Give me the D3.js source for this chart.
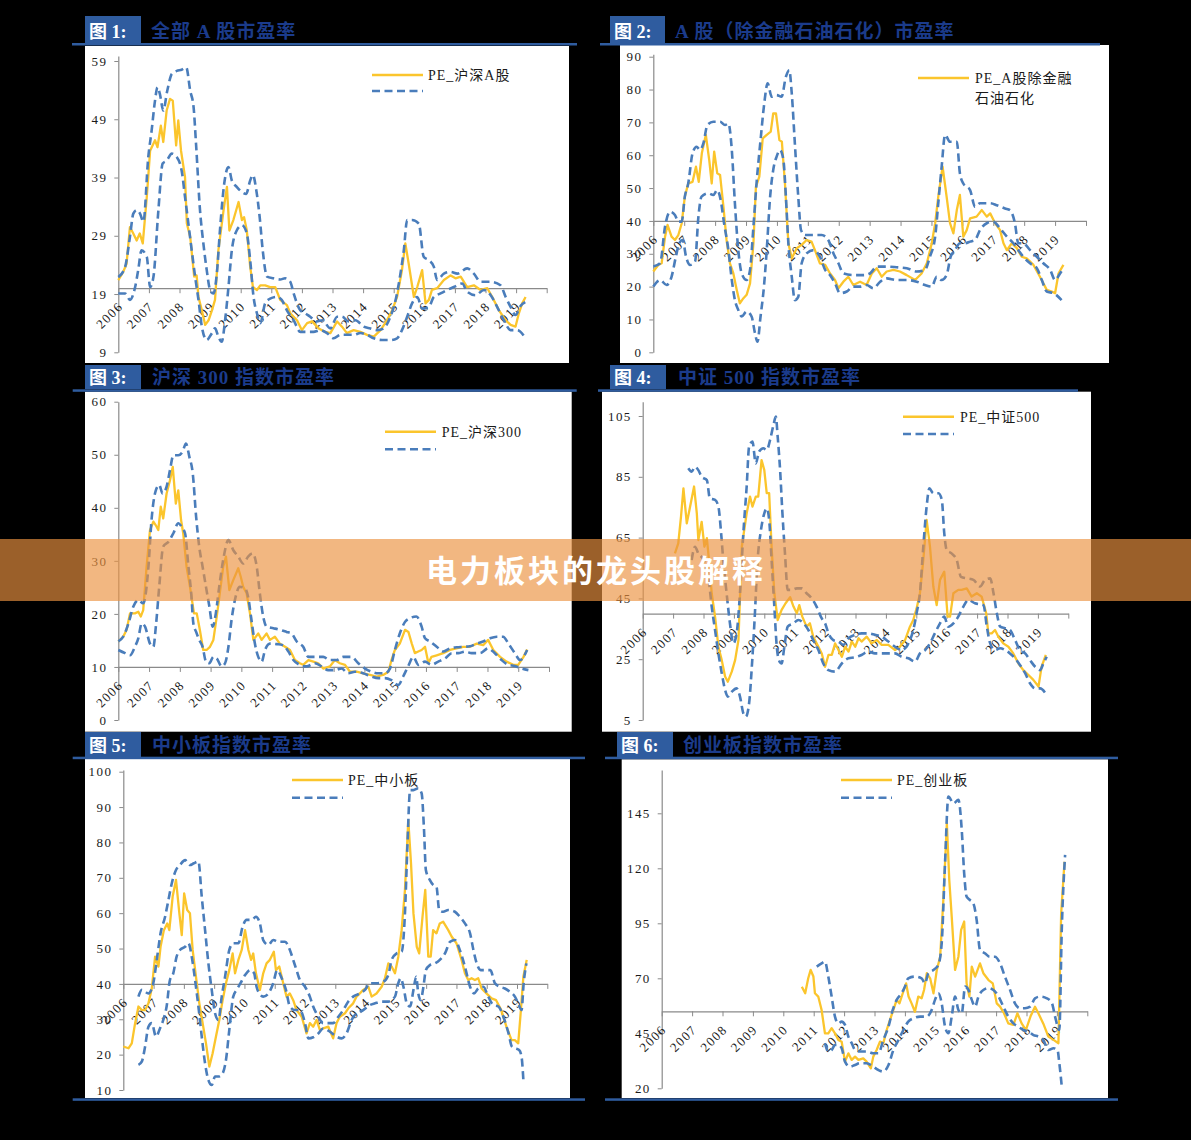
<!DOCTYPE html>
<html>
<head>
  <meta charset="UTF-8">
  <style>
    body { margin: 0; background: #000; }
    svg { display: block; }
    .axis text { font-family: "Liberation Serif", "Noto Sans CJK SC", serif; font-size: 13px; letter-spacing: 1.4px; fill: #1a1a1a; }
    .axis path, .axis line { stroke: #8a8a8a; }
  </style>
</head>
<body>
<svg width="1191" height="1140"></svg>
<script src="https://d3js.org/d3.v7.min.js"></script>
<script>
// ---- data (fractional year, PE) ----
const yearLabels = ["2006","2007","2008","2009","2010","2011","2012","2013","2014","2015","2016","2017","2018","2019"];
const figLabels = ["图 1:", "图 2:", "图 3:", "图 4:", "图 5:", "图 6:"];
const titles = ["全部 A 股市盈率", "A 股（除金融石油石化）市盈率", "沪深 300 指数市盈率", "中证 500 指数市盈率", "中小板指数市盈率", "创业板指数市盈率"];
const legendLabels = [["PE_沪深A股"], ["PE_A股除金融", "石油石化"], ["PE_沪深300"], ["PE_中证500"], ["PE_中小板"], ["PE_创业板"]];
const yTicks1 = [9, 19, 29, 39, 49, 59];
const yTicks2 = [0, 10, 20, 30, 40, 50, 60, 70, 80, 90];
const yTicks3 = [0, 10, 20, 30, 40, 50, 60];
const yTicks4 = [5, 25, 45, 65, 85, 105];
const yTicks5 = [10, 20, 30, 40, 50, 60, 70, 80, 90, 100];
const yTicks6 = [20, 45, 70, 95, 120, 145];
const means = [20, 40, 10, 40, 40, 55];

const pe1 = [[2006.0,21.4],[2006.16,22.8],[2006.27,24.2],[2006.38,30.5],[2006.49,29.4],[2006.6,28.2],[2006.7,29.4],[2006.8,27.7],[2006.93,35.6],[2007.04,43.6],[2007.2,45.4],[2007.28,44.2],[2007.39,47.9],[2007.47,45.1],[2007.58,50.5],[2007.69,52.5],[2007.78,52.2],[2007.89,44.5],[2007.96,48.8],[2008.05,43.6],[2008.18,39.1],[2008.24,31.1],[2008.35,28.8],[2008.48,22.0],[2008.56,22.2],[2008.62,18.5],[2008.73,16.2],[2008.84,13.7],[2008.95,14.5],[2009.06,16.2],[2009.16,18.0],[2009.27,26.5],[2009.44,33.4],[2009.55,37.4],[2009.63,29.9],[2009.76,31.7],[2009.93,34.8],[2010.04,31.7],[2010.11,32.2],[2010.2,29.9],[2010.31,23.7],[2010.4,20.2],[2010.53,19.7],[2010.64,20.5],[2010.8,20.5],[2010.96,20.2],[2011.13,20.2],[2011.29,18.0],[2011.51,17.1],[2011.62,15.7],[2011.84,14.5],[2012.0,12.8],[2012.17,14.0],[2012.33,14.3],[2012.55,13.1],[2012.76,12.5],[2012.93,12.3],[2013.15,14.3],[2013.31,13.4],[2013.47,12.3],[2013.69,12.8],[2013.91,12.5],[2014.13,12.0],[2014.35,11.7],[2014.57,12.8],[2014.78,14.5],[2014.95,16.2],[2015.11,18.5],[2015.27,23.1],[2015.38,27.7],[2015.49,24.2],[2015.66,18.5],[2015.77,20.2],[2015.93,23.1],[2016.04,17.4],[2016.15,18.0],[2016.25,19.7],[2016.42,20.0],[2016.64,21.4],[2016.86,22.2],[2017.02,21.7],[2017.19,22.0],[2017.4,20.2],[2017.62,20.5],[2017.84,19.7],[2018.06,20.0],[2018.22,18.5],[2018.44,16.2],[2018.66,14.5],[2018.82,13.7],[2018.98,13.4],[2019.09,15.7],[2019.2,17.4],[2019.31,18.5]];
const up1 = [[2006.0,21.9],[2006.22,23.6],[2006.38,28.8],[2006.49,32.8],[2006.6,33.4],[2006.71,32.8],[2006.82,31.4],[2006.98,42.5],[2007.09,47.1],[2007.2,52.2],[2007.28,54.5],[2007.36,53.3],[2007.47,50.5],[2007.6,53.9],[2007.75,56.8],[2007.91,57.3],[2008.07,57.5],[2008.22,57.9],[2008.35,53.9],[2008.46,51.1],[2008.54,44.8],[2008.67,33.4],[2008.78,27.7],[2008.89,23.1],[2009.0,19.7],[2009.11,19.1],[2009.22,22.5],[2009.33,30.5],[2009.46,37.9],[2009.6,40.8],[2009.71,38.5],[2009.87,37.4],[2010.04,36.5],[2010.18,36.2],[2010.31,38.5],[2010.4,39.4],[2010.51,36.8],[2010.62,32.2],[2010.72,26.5],[2010.86,22.0],[2011.07,21.7],[2011.29,21.5],[2011.45,21.7],[2011.62,21.1],[2011.73,19.1],[2011.95,16.2],[2012.11,15.7],[2012.27,15.1],[2012.49,14.3],[2012.67,14.5],[2012.93,13.1],[2013.15,15.1],[2013.31,15.1],[2013.53,14.3],[2013.75,14.5],[2014.02,13.4],[2014.24,13.1],[2014.46,12.8],[2014.67,13.1],[2014.89,15.1],[2015.05,17.7],[2015.22,22.5],[2015.33,26.5],[2015.44,31.7],[2015.6,31.7],[2015.82,31.1],[2015.98,25.4],[2016.15,24.8],[2016.31,23.7],[2016.42,21.4],[2016.64,22.5],[2016.86,22.8],[2017.08,22.5],[2017.4,23.4],[2017.62,22.5],[2017.84,21.1],[2018.17,21.1],[2018.49,20.5],[2018.66,18.5],[2018.82,16.8],[2018.98,15.4],[2019.15,17.0],[2019.3,17.6]];
const lo1 = [[2006.0,19.1],[2006.22,19.1],[2006.38,18.0],[2006.55,20.2],[2006.65,23.1],[2006.76,26.5],[2006.93,25.4],[2007.04,20.2],[2007.15,22.0],[2007.31,33.4],[2007.45,41.4],[2007.58,41.9],[2007.75,43.1],[2007.91,42.5],[2008.07,40.2],[2008.18,35.7],[2008.29,31.1],[2008.4,26.5],[2008.51,22.0],[2008.62,18.0],[2008.73,13.4],[2008.89,11.1],[2009.06,12.3],[2009.16,13.1],[2009.27,11.7],[2009.38,10.8],[2009.49,14.5],[2009.6,20.2],[2009.71,26.5],[2009.87,29.9],[2010.04,30.8],[2010.2,29.4],[2010.31,24.8],[2010.42,18.5],[2010.53,15.7],[2010.64,14.0],[2010.8,17.4],[2010.96,18.2],[2011.18,18.5],[2011.34,18.0],[2011.51,16.2],[2011.73,14.5],[2011.95,12.5],[2012.17,12.5],[2012.38,12.5],[2012.6,12.8],[2012.82,12.3],[2013.04,11.4],[2013.26,12.0],[2013.47,12.0],[2013.69,12.0],[2013.91,12.3],[2014.13,12.0],[2014.35,11.4],[2014.62,11.1],[2014.89,11.1],[2015.11,11.4],[2015.27,12.8],[2015.44,15.1],[2015.6,17.4],[2015.77,18.5],[2015.93,16.5],[2016.15,16.8],[2016.31,18.5],[2016.53,19.1],[2016.75,19.7],[2016.96,20.2],[2017.24,20.8],[2017.4,19.4],[2017.67,18.8],[2017.95,19.7],[2018.17,18.8],[2018.38,16.8],[2018.6,14.5],[2018.82,12.8],[2019.04,12.8],[2019.31,11.4]];

const pe2 = [[2006.0,24.6],[2006.16,26.6],[2006.27,27.1],[2006.38,35.2],[2006.46,38.8],[2006.59,35.2],[2006.7,34.2],[2006.81,35.7],[2006.92,39.3],[2007.02,47.4],[2007.13,51.4],[2007.27,51.9],[2007.38,56.5],[2007.47,51.9],[2007.57,60.6],[2007.7,66.2],[2007.81,58.5],[2007.89,51.4],[2007.97,61.1],[2008.07,54.5],[2008.16,54.0],[2008.27,44.3],[2008.37,34.2],[2008.48,27.1],[2008.59,24.0],[2008.7,19.0],[2008.8,14.9],[2008.91,16.4],[2009.02,17.5],[2009.13,21.0],[2009.24,33.2],[2009.32,50.4],[2009.43,53.5],[2009.54,65.1],[2009.67,66.2],[2009.8,67.2],[2009.88,72.7],[2009.97,72.7],[2010.08,64.6],[2010.16,64.1],[2010.26,51.4],[2010.37,33.2],[2010.48,28.6],[2010.64,31.7],[2010.8,32.7],[2010.96,34.2],[2011.12,33.7],[2011.23,31.1],[2011.39,27.1],[2011.56,26.6],[2011.72,24.0],[2011.88,22.0],[2011.99,19.5],[2012.15,21.5],[2012.31,23.0],[2012.47,20.5],[2012.69,21.5],[2012.9,20.5],[2013.07,24.0],[2013.23,25.6],[2013.39,23.0],[2013.55,24.6],[2013.77,25.1],[2013.98,24.6],[2014.2,23.5],[2014.47,22.0],[2014.68,24.0],[2014.85,27.1],[2015.01,33.2],[2015.12,39.3],[2015.22,47.4],[2015.36,56.5],[2015.49,47.4],[2015.6,39.3],[2015.71,36.2],[2015.82,43.3],[2015.92,47.9],[2016.03,35.2],[2016.14,37.2],[2016.25,40.8],[2016.46,41.3],[2016.63,43.3],[2016.79,41.3],[2016.9,42.3],[2017.06,39.3],[2017.22,37.2],[2017.33,33.2],[2017.44,31.1],[2017.6,33.2],[2017.76,31.7],[2017.92,29.1],[2018.08,28.6],[2018.3,26.6],[2018.51,23.0],[2018.73,19.0],[2018.89,18.5],[2019.0,18.0],[2019.11,24.0],[2019.27,26.6]];
const up2 = [[2006.0,26.1],[2006.22,27.1],[2006.38,38.3],[2006.54,42.8],[2006.7,41.8],[2006.81,39.8],[2006.92,39.8],[2007.02,47.4],[2007.13,51.4],[2007.27,60.6],[2007.4,62.6],[2007.51,61.6],[2007.62,63.6],[2007.75,69.2],[2007.94,70.2],[2008.16,70.2],[2008.32,69.2],[2008.43,69.7],[2008.54,61.6],[2008.64,45.4],[2008.75,31.1],[2008.86,24.0],[2009.02,22.0],[2009.13,25.1],[2009.24,38.3],[2009.34,51.4],[2009.47,64.6],[2009.59,75.8],[2009.7,81.9],[2009.83,77.8],[2009.99,78.3],[2010.15,77.8],[2010.29,83.9],[2010.4,85.9],[2010.48,78.8],[2010.58,63.6],[2010.69,47.4],[2010.78,37.2],[2010.91,35.7],[2011.18,35.7],[2011.45,35.7],[2011.66,34.2],[2011.83,30.1],[2011.99,27.1],[2012.15,24.0],[2012.47,23.5],[2012.8,23.5],[2013.01,24.0],[2013.23,26.1],[2013.55,26.1],[2013.87,25.9],[2014.2,25.6],[2014.52,24.6],[2014.79,25.1],[2014.95,29.1],[2015.12,35.2],[2015.22,45.4],[2015.33,56.5],[2015.44,66.2],[2015.6,64.1],[2015.82,64.1],[2015.92,54.5],[2016.03,51.4],[2016.25,49.4],[2016.41,44.3],[2016.57,45.4],[2016.9,45.4],[2017.11,44.8],[2017.38,43.8],[2017.54,43.3],[2017.7,39.3],[2017.81,33.2],[2017.97,33.2],[2018.19,31.1],[2018.41,29.1],[2018.62,27.1],[2018.84,25.1],[2019.0,22.0],[2019.16,24.0],[2019.27,25.6]];
const lo2 = [[2006.0,20.0],[2006.22,22.0],[2006.43,20.5],[2006.59,23.0],[2006.73,29.1],[2006.84,33.2],[2006.95,34.2],[2007.06,29.1],[2007.19,26.6],[2007.35,27.6],[2007.46,41.3],[2007.56,47.4],[2007.78,48.4],[2007.94,47.9],[2008.07,49.4],[2008.18,46.4],[2008.29,39.3],[2008.43,31.1],[2008.54,22.0],[2008.64,15.9],[2008.75,12.9],[2008.86,10.9],[2009.02,12.4],[2009.18,10.9],[2009.29,5.8],[2009.37,3.2],[2009.47,10.9],[2009.58,20.0],[2009.67,31.1],[2009.78,47.4],[2009.88,55.5],[2009.99,59.6],[2010.1,61.6],[2010.21,58.5],[2010.29,47.4],[2010.37,33.2],[2010.48,23.0],[2010.58,15.9],[2010.69,16.9],[2010.8,27.1],[2010.96,30.1],[2011.18,31.1],[2011.39,29.1],[2011.56,25.1],[2011.72,23.5],[2011.88,21.0],[2012.04,18.0],[2012.26,18.5],[2012.47,20.0],[2012.69,20.0],[2012.9,20.5],[2013.12,19.5],[2013.34,21.5],[2013.55,22.5],[2013.87,22.0],[2014.2,22.0],[2014.52,21.5],[2014.79,20.5],[2015.01,20.0],[2015.17,23.0],[2015.33,22.0],[2015.49,23.5],[2015.62,29.1],[2015.76,31.1],[2015.92,33.2],[2016.09,33.2],[2016.25,33.7],[2016.41,34.2],[2016.57,37.2],[2016.79,39.3],[2017.0,39.8],[2017.22,37.7],[2017.44,35.2],[2017.65,33.2],[2017.81,31.1],[2017.97,29.1],[2018.19,27.1],[2018.41,25.6],[2018.57,22.0],[2018.73,18.5],[2018.95,18.0],[2019.21,15.9]];

const pe3 = [[2006.0,14.8],[2006.16,15.7],[2006.27,17.0],[2006.38,20.1],[2006.54,20.1],[2006.65,20.4],[2006.73,19.5],[2006.81,20.7],[2006.92,28.9],[2007.03,35.8],[2007.14,37.4],[2007.22,36.7],[2007.3,35.8],[2007.38,40.2],[2007.46,38.0],[2007.57,42.7],[2007.68,45.2],[2007.77,47.7],[2007.87,40.8],[2007.95,43.3],[2008.04,37.7],[2008.11,35.2],[2008.22,28.9],[2008.33,25.1],[2008.46,20.1],[2008.55,20.1],[2008.65,17.0],[2008.76,13.2],[2008.87,13.2],[2008.98,13.8],[2009.09,15.1],[2009.2,19.5],[2009.3,23.9],[2009.41,28.9],[2009.5,30.8],[2009.61,24.5],[2009.74,26.4],[2009.9,28.6],[2009.98,27.0],[2010.06,25.1],[2010.17,23.9],[2010.28,20.1],[2010.39,15.1],[2010.55,16.3],[2010.66,15.1],[2010.82,16.3],[2010.93,15.1],[2011.09,15.7],[2011.25,14.4],[2011.42,13.8],[2011.58,13.2],[2011.74,11.3],[2011.9,10.7],[2012.01,10.4],[2012.18,11.3],[2012.34,11.0],[2012.5,10.7],[2012.66,9.7],[2012.88,10.1],[2013.04,11.3],[2013.2,10.7],[2013.37,10.4],[2013.53,9.1],[2013.75,9.1],[2013.96,8.8],[2014.18,8.5],[2014.4,8.2],[2014.61,8.5],[2014.78,9.1],[2014.88,11.3],[2014.99,13.2],[2015.15,14.4],[2015.32,17.0],[2015.43,16.6],[2015.54,14.4],[2015.64,12.6],[2015.75,12.9],[2015.86,13.2],[2015.97,13.8],[2016.08,10.7],[2016.18,11.9],[2016.35,12.2],[2016.56,12.6],[2016.78,13.2],[2016.99,13.5],[2017.21,13.8],[2017.43,13.8],[2017.65,14.4],[2017.86,14.1],[2018.02,15.1],[2018.19,13.2],[2018.41,11.9],[2018.62,11.0],[2018.84,10.4],[2019.0,10.4],[2019.17,11.9],[2019.29,13.3]];
const up3 = [[2006.0,14.8],[2006.16,15.7],[2006.33,18.2],[2006.49,21.4],[2006.65,22.6],[2006.81,22.0],[2006.98,28.9],[2007.08,37.7],[2007.22,43.3],[2007.33,44.3],[2007.44,42.7],[2007.57,44.0],[2007.68,47.1],[2007.79,49.9],[2007.95,49.9],[2008.09,50.6],[2008.2,52.1],[2008.31,49.6],[2008.42,46.5],[2008.53,38.3],[2008.63,32.7],[2008.74,28.9],[2008.85,25.1],[2008.96,21.4],[2009.07,17.6],[2009.17,20.1],[2009.28,25.1],[2009.41,30.2],[2009.58,33.9],[2009.74,32.0],[2009.9,30.8],[2010.06,29.5],[2010.22,30.8],[2010.37,31.4],[2010.5,28.9],[2010.6,23.9],[2010.71,19.5],[2010.82,17.6],[2011.04,17.3],[2011.25,17.0],[2011.47,16.6],[2011.63,16.3],[2011.8,14.8],[2012.01,13.8],[2012.18,11.9],[2012.39,11.9],[2012.66,11.9],[2012.88,11.3],[2013.1,11.3],[2013.31,11.9],[2013.58,11.9],[2013.8,10.7],[2014.02,9.7],[2014.23,9.1],[2014.45,8.8],[2014.67,8.8],[2014.83,9.7],[2014.99,13.2],[2015.15,16.3],[2015.32,18.5],[2015.48,19.2],[2015.69,19.5],[2015.86,17.6],[2015.97,15.4],[2016.13,14.8],[2016.35,13.8],[2016.56,12.9],[2016.78,13.5],[2016.99,13.7],[2017.21,13.8],[2017.43,13.9],[2017.65,14.4],[2017.86,14.8],[2018.08,15.4],[2018.3,15.7],[2018.51,15.7],[2018.68,14.4],[2018.89,12.6],[2019.06,11.3],[2019.29,13.2]];
const lo3 = [[2006.0,13.2],[2006.22,12.6],[2006.38,12.2],[2006.54,13.8],[2006.65,15.4],[2006.76,18.2],[2006.87,17.6],[2007.03,14.4],[2007.14,13.8],[2007.22,17.6],[2007.33,25.1],[2007.46,32.7],[2007.63,33.6],[2007.79,35.2],[2007.95,37.1],[2008.06,36.4],[2008.17,35.2],[2008.28,28.9],[2008.37,23.9],[2008.44,18.2],[2008.53,16.6],[2008.63,15.1],[2008.74,13.8],[2008.85,11.0],[2008.96,10.7],[2009.09,11.9],[2009.2,11.6],[2009.36,10.1],[2009.47,10.7],[2009.58,13.8],[2009.68,18.8],[2009.79,22.6],[2009.95,25.1],[2010.12,24.8],[2010.22,23.2],[2010.33,18.8],[2010.44,14.4],[2010.55,11.9],[2010.66,11.0],[2010.77,13.2],[2010.93,14.4],[2011.15,14.3],[2011.36,14.1],[2011.53,12.9],[2011.69,11.3],[2011.9,10.4],[2012.12,10.1],[2012.39,10.7],[2012.61,10.1],[2012.82,9.4],[2013.04,9.4],[2013.26,9.7],[2013.47,8.8],[2013.69,9.1],[2013.96,8.8],[2014.23,8.2],[2014.45,7.9],[2014.67,7.9],[2014.88,7.5],[2015.1,6.6],[2015.26,8.2],[2015.42,10.1],[2015.59,11.9],[2015.75,10.4],[2015.97,11.0],[2016.18,10.4],[2016.4,11.0],[2016.62,11.6],[2016.84,12.6],[2017.05,12.6],[2017.27,12.9],[2017.49,12.6],[2017.76,12.6],[2018.02,13.5],[2018.24,12.6],[2018.46,11.3],[2018.68,10.4],[2018.89,10.2],[2019.11,9.7],[2019.33,9.4]];

const pe4 = [[2007.06,59.8],[2007.17,63.1],[2007.26,71.9],[2007.34,81.2],[2007.45,69.7],[2007.56,75.2],[2007.69,81.8],[2007.78,73.0],[2007.83,64.2],[2007.94,70.2],[2008.03,62.0],[2008.11,64.8],[2008.18,57.6],[2008.27,46.7],[2008.38,39.0],[2008.49,29.1],[2008.6,24.7],[2008.71,19.3],[2008.8,17.6],[2008.93,20.9],[2009.04,24.7],[2009.15,31.3],[2009.26,62.0],[2009.42,73.0],[2009.53,78.5],[2009.61,75.2],[2009.72,78.5],[2009.8,78.5],[2009.91,90.5],[2010.0,87.2],[2010.08,79.6],[2010.16,79.6],[2010.24,62.0],[2010.33,46.7],[2010.44,37.9],[2010.57,41.2],[2010.7,43.4],[2010.85,45.4],[2010.96,42.3],[2011.07,40.1],[2011.15,42.8],[2011.25,39.0],[2011.39,35.7],[2011.5,36.8],[2011.61,32.4],[2011.78,29.1],[2011.89,26.9],[2012.0,22.5],[2012.11,26.4],[2012.22,26.4],[2012.33,30.2],[2012.44,28.0],[2012.55,25.8],[2012.66,29.1],[2012.77,27.5],[2012.88,30.8],[2012.99,29.1],[2013.1,31.9],[2013.2,30.8],[2013.37,32.4],[2013.53,30.2],[2013.7,31.3],[2013.86,29.7],[2014.08,29.7],[2014.3,28.0],[2014.46,29.1],[2014.63,31.3],[2014.79,35.7],[2014.9,37.9],[2015.01,41.7],[2015.12,46.7],[2015.23,57.6],[2015.34,70.8],[2015.45,62.0],[2015.56,48.9],[2015.67,42.8],[2015.78,51.1],[2015.92,53.8],[2016.03,39.0],[2016.11,39.0],[2016.22,46.7],[2016.38,47.8],[2016.49,47.8],[2016.66,48.3],[2016.82,45.6],[2016.99,46.7],[2017.15,45.6],[2017.3,40.1],[2017.37,33.5],[2017.48,33.5],[2017.59,34.6],[2017.7,32.4],[2017.86,30.2],[2018.03,29.1],[2018.19,26.9],[2018.36,23.6],[2018.52,21.4],[2018.69,19.8],[2018.85,18.2],[2019.02,16.0],[2019.12,22.5],[2019.26,26.4]];
const up4 = [[2007.5,87.8],[2007.61,86.7],[2007.72,88.3],[2007.83,87.2],[2007.94,85.0],[2008.11,83.9],[2008.21,77.9],[2008.38,77.4],[2008.49,75.2],[2008.58,66.4],[2008.65,57.6],[2008.76,46.7],[2008.87,36.8],[2008.98,30.2],[2009.09,33.5],[2009.2,46.7],[2009.31,66.4],[2009.42,81.8],[2009.5,94.9],[2009.61,96.6],[2009.72,89.4],[2009.83,93.3],[2009.97,94.4],[2010.08,93.8],[2010.19,97.1],[2010.3,102.0],[2010.38,104.8],[2010.44,98.2],[2010.52,87.2],[2010.59,74.1],[2010.68,59.8],[2010.77,47.8],[2010.9,47.8],[2011.07,48.3],[2011.23,48.3],[2011.39,46.7],[2011.56,45.0],[2011.72,42.3],[2011.89,38.4],[2012.0,36.8],[2012.11,33.5],[2012.27,31.3],[2012.44,30.8],[2012.6,29.7],[2012.77,31.9],[2012.98,33.0],[2013.2,33.5],[2013.42,33.5],[2013.64,33.0],[2013.86,32.4],[2014.08,30.8],[2014.3,29.1],[2014.52,28.0],[2014.74,30.2],[2014.9,34.6],[2015.01,40.1],[2015.12,46.7],[2015.23,62.0],[2015.34,75.2],[2015.43,81.2],[2015.56,79.6],[2015.73,79.6],[2015.84,77.4],[2015.92,66.4],[2016.0,60.9],[2016.16,59.8],[2016.33,57.6],[2016.47,52.1],[2016.66,51.6],[2016.88,51.1],[2017.1,48.9],[2017.26,51.1],[2017.43,51.6],[2017.54,46.7],[2017.65,40.1],[2017.76,35.7],[2017.92,35.2],[2018.08,34.6],[2018.25,31.3],[2018.41,28.0],[2018.58,26.9],[2018.74,24.7],[2018.91,22.5],[2019.07,21.4],[2019.18,23.6],[2019.29,25.8]];
const lo4 = [[2007.61,57.6],[2007.72,62.0],[2007.83,59.8],[2008.0,57.6],[2008.16,52.1],[2008.27,42.3],[2008.38,34.6],[2008.49,26.9],[2008.6,20.4],[2008.71,14.9],[2008.8,12.7],[2008.93,14.3],[2009.09,15.4],[2009.2,12.7],[2009.31,7.2],[2009.39,6.1],[2009.5,10.5],[2009.59,22.5],[2009.68,37.9],[2009.78,57.6],[2009.89,67.5],[2010.0,73.0],[2010.08,74.6],[2010.16,70.8],[2010.24,57.6],[2010.33,42.3],[2010.41,29.1],[2010.48,24.7],[2010.57,23.6],[2010.66,29.1],[2010.77,35.7],[2010.96,36.8],[2011.12,37.9],[2011.29,36.8],[2011.45,34.6],[2011.61,31.3],[2011.78,28.0],[2011.94,23.6],[2012.11,21.4],[2012.33,20.9],[2012.55,23.6],[2012.77,25.3],[2012.98,25.6],[2013.2,26.4],[2013.42,27.5],[2013.64,26.9],[2013.86,26.9],[2014.08,26.9],[2014.3,26.9],[2014.52,25.8],[2014.74,25.3],[2014.96,24.2],[2015.12,26.9],[2015.29,28.0],[2015.45,30.2],[2015.61,33.5],[2015.78,36.8],[2015.92,39.0],[2016.05,35.7],[2016.22,36.8],[2016.38,39.0],[2016.55,42.3],[2016.71,44.5],[2016.93,43.4],[2017.21,42.8],[2017.32,35.7],[2017.43,30.2],[2017.59,28.0],[2017.76,28.6],[2017.92,28.0],[2018.08,26.9],[2018.25,25.3],[2018.41,23.1],[2018.58,20.4],[2018.74,17.1],[2018.91,15.4],[2019.07,15.4],[2019.29,13.2]];

const pe5 = [[2006.0,22.3],[2006.17,21.8],[2006.28,23.2],[2006.39,28.9],[2006.5,33.6],[2006.61,32.6],[2006.72,32.6],[2006.83,34.5],[2006.94,38.7],[2007.05,47.7],[2007.16,44.9],[2007.23,50.5],[2007.34,55.2],[2007.45,57.1],[2007.52,55.2],[2007.63,64.7],[2007.74,69.4],[2007.85,60.0],[2007.93,53.8],[2008.01,65.6],[2008.11,60.9],[2008.2,60.0],[2008.29,49.6],[2008.4,42.0],[2008.51,34.5],[2008.62,28.9],[2008.73,23.2],[2008.84,16.6],[2008.95,20.4],[2009.06,25.1],[2009.17,29.8],[2009.28,35.4],[2009.39,40.2],[2009.5,43.9],[2009.61,48.6],[2009.69,43.0],[2009.8,46.8],[2009.91,49.6],[2010.02,55.2],[2010.13,49.6],[2010.22,46.8],[2010.29,48.6],[2010.38,43.0],[2010.51,38.3],[2010.62,43.0],[2010.73,45.8],[2010.84,46.8],[2010.97,49.1],[2011.04,43.9],[2011.15,44.9],[2011.28,40.2],[2011.39,36.4],[2011.5,37.3],[2011.61,35.4],[2011.72,32.6],[2011.89,30.7],[2012.05,26.0],[2012.16,28.9],[2012.27,27.9],[2012.38,29.8],[2012.49,27.0],[2012.6,27.4],[2012.77,27.9],[2012.93,24.6],[2013.04,28.9],[2013.15,30.7],[2013.32,31.7],[2013.43,33.1],[2013.59,34.5],[2013.7,36.4],[2013.81,37.3],[2013.92,38.3],[2014.09,39.2],[2014.2,36.4],[2014.36,37.3],[2014.53,39.2],[2014.64,41.6],[2014.75,45.8],[2014.86,44.9],[2014.97,43.0],[2015.08,47.7],[2015.19,55.2],[2015.3,66.6],[2015.41,86.3],[2015.5,74.1],[2015.58,60.0],[2015.69,50.5],[2015.77,48.6],[2015.88,59.0],[2015.97,66.6],[2016.07,47.7],[2016.15,47.7],[2016.23,55.2],[2016.34,54.3],[2016.45,57.1],[2016.56,57.6],[2016.73,55.2],[2016.84,53.4],[2017.0,51.5],[2017.17,46.8],[2017.28,43.0],[2017.39,41.1],[2017.5,41.6],[2017.61,41.1],[2017.72,41.6],[2017.83,38.7],[2017.99,37.3],[2018.16,35.9],[2018.31,35.4],[2018.48,32.6],[2018.65,27.9],[2018.82,24.1],[2018.93,24.1],[2019.04,23.2],[2019.12,31.7],[2019.21,42.0],[2019.32,46.8]];
const up5 = [[2006.5,36.4],[2006.61,38.3],[2006.83,37.3],[2006.99,40.2],[2007.12,47.7],[2007.23,54.3],[2007.38,59.0],[2007.49,63.7],[2007.6,68.4],[2007.74,72.2],[2007.87,73.6],[2008.04,75.0],[2008.2,73.6],[2008.33,74.1],[2008.48,74.6],[2008.59,64.7],[2008.7,55.2],[2008.81,45.8],[2008.92,38.3],[2009.03,31.7],[2009.14,29.8],[2009.25,36.4],[2009.36,42.0],[2009.5,49.6],[2009.63,51.5],[2009.8,51.5],[2009.94,56.2],[2010.07,58.1],[2010.24,58.1],[2010.38,59.0],[2010.51,57.1],[2010.62,52.4],[2010.79,51.0],[2010.95,52.4],[2011.12,51.9],[2011.34,51.9],[2011.5,49.6],[2011.61,46.8],[2011.72,43.9],[2011.83,41.1],[2012.0,39.2],[2012.16,36.4],[2012.27,33.6],[2012.44,30.7],[2012.6,28.9],[2012.77,28.9],[2012.93,28.9],[2013.1,30.7],[2013.26,32.6],[2013.43,35.0],[2013.59,36.4],[2013.81,37.3],[2013.98,38.3],[2014.14,40.2],[2014.36,40.2],[2014.58,40.6],[2014.75,42.5],[2014.86,46.8],[2015.02,48.6],[2015.19,49.1],[2015.3,60.0],[2015.38,78.8],[2015.47,94.8],[2015.58,94.8],[2015.74,95.3],[2015.85,93.9],[2015.93,83.5],[2015.99,72.2],[2016.12,69.4],[2016.23,68.0],[2016.34,67.5],[2016.43,60.9],[2016.56,60.4],[2016.73,60.9],[2016.95,60.4],[2017.11,59.0],[2017.28,57.1],[2017.45,54.3],[2017.56,49.6],[2017.67,45.8],[2017.8,43.9],[2017.94,43.9],[2018.12,43.9],[2018.27,40.2],[2018.43,39.2],[2018.6,38.7],[2018.76,37.8],[2018.93,36.4],[2019.04,34.5],[2019.15,32.6],[2019.22,40.2],[2019.31,45.8]];
const lo5 = [[2006.5,17.1],[2006.61,18.0],[2006.72,22.3],[2006.83,27.9],[2006.94,28.9],[2007.08,25.1],[2007.21,27.4],[2007.32,29.8],[2007.43,33.6],[2007.54,41.1],[2007.65,43.0],[2007.76,47.7],[2007.87,49.6],[2008.04,50.5],[2008.15,51.5],[2008.26,47.7],[2008.37,41.1],[2008.48,33.6],[2008.59,25.1],[2008.7,17.5],[2008.81,12.8],[2008.92,11.4],[2009.03,13.8],[2009.14,13.8],[2009.28,14.7],[2009.39,18.5],[2009.5,27.0],[2009.63,36.4],[2009.74,38.3],[2009.87,40.2],[2010.02,42.5],[2010.19,43.9],[2010.32,43.0],[2010.4,39.2],[2010.49,37.3],[2010.62,36.4],[2010.79,37.3],[2010.95,40.2],[2011.08,43.9],[2011.23,41.6],[2011.37,38.3],[2011.5,33.6],[2011.67,32.6],[2011.83,32.6],[2012.0,28.9],[2012.11,24.6],[2012.27,24.9],[2012.44,26.0],[2012.6,27.4],[2012.82,26.5],[2013.04,25.1],[2013.21,24.6],[2013.37,26.0],[2013.54,29.8],[2013.7,31.7],[2013.92,32.6],[2014.14,34.0],[2014.31,34.5],[2014.53,35.0],[2014.75,35.0],[2014.97,36.4],[2015.08,40.2],[2015.16,41.6],[2015.25,39.2],[2015.36,34.5],[2015.47,33.6],[2015.58,38.3],[2015.67,42.0],[2015.74,37.3],[2015.82,35.4],[2015.91,39.2],[2015.99,43.9],[2016.12,45.3],[2016.29,45.8],[2016.45,46.8],[2016.62,48.6],[2016.79,51.9],[2016.95,52.4],[2017.11,49.6],[2017.28,44.9],[2017.45,39.2],[2017.58,37.3],[2017.72,38.7],[2017.89,39.2],[2018.05,36.4],[2018.22,34.0],[2018.39,33.6],[2018.55,30.7],[2018.72,26.0],[2018.83,22.3],[2018.93,21.8],[2019.07,21.3],[2019.15,19.4],[2019.21,12.8]];

const pe6 = [[2010.61,66.2],[2010.72,63.2],[2010.82,70.0],[2010.9,73.8],[2010.99,70.8],[2011.04,63.2],[2011.15,61.7],[2011.26,55.6],[2011.37,45.0],[2011.48,45.0],[2011.59,47.3],[2011.7,45.0],[2011.81,42.0],[2011.92,41.2],[2012.03,32.1],[2012.14,35.9],[2012.25,32.9],[2012.36,34.4],[2012.47,32.9],[2012.63,33.6],[2012.74,32.1],[2012.88,29.1],[2012.96,34.4],[2013.07,37.4],[2013.18,41.2],[2013.29,40.5],[2013.4,46.5],[2013.51,51.1],[2013.62,55.6],[2013.73,60.2],[2013.82,58.6],[2013.93,63.2],[2014.04,67.7],[2014.12,61.7],[2014.22,58.6],[2014.33,54.8],[2014.44,61.7],[2014.55,60.9],[2014.63,64.7],[2014.72,72.3],[2014.83,70.0],[2014.94,63.2],[2015.05,73.8],[2015.16,79.8],[2015.27,107.1],[2015.38,140.5],[2015.46,114.7],[2015.54,98.0],[2015.65,73.8],[2015.76,79.8],[2015.85,92.0],[2015.95,95.8],[2016.03,67.7],[2016.12,61.7],[2016.2,75.3],[2016.31,70.8],[2016.47,76.8],[2016.58,72.3],[2016.75,69.2],[2016.89,67.7],[2017.02,58.6],[2017.13,57.1],[2017.26,54.1],[2017.4,49.5],[2017.57,48.8],[2017.7,54.1],[2017.84,49.5],[2017.98,46.5],[2018.13,52.6],[2018.28,57.1],[2018.39,54.1],[2018.55,49.5],[2018.72,43.5],[2018.89,42.0],[2019.05,40.5],[2019.14,99.5],[2019.25,123.0]];
const up6 = [[2011.1,75.3],[2011.26,76.8],[2011.37,77.6],[2011.48,70.8],[2011.59,61.7],[2011.7,52.6],[2011.81,49.5],[2011.92,50.3],[2012.03,48.8],[2012.14,43.5],[2012.25,40.5],[2012.36,37.4],[2012.52,36.7],[2012.74,36.7],[2012.96,35.9],[2013.13,35.9],[2013.29,42.0],[2013.46,48.0],[2013.6,55.6],[2013.73,60.2],[2013.89,63.2],[2014.0,66.2],[2014.11,70.0],[2014.33,70.8],[2014.55,70.0],[2014.66,67.7],[2014.77,72.3],[2014.94,73.8],[2015.1,76.1],[2015.21,85.9],[2015.32,122.3],[2015.43,152.6],[2015.6,149.5],[2015.76,151.1],[2015.87,137.4],[2015.95,117.7],[2016.03,107.1],[2016.14,105.6],[2016.25,104.1],[2016.36,96.5],[2016.47,82.9],[2016.63,81.4],[2016.79,79.8],[2016.96,79.8],[2017.13,76.8],[2017.29,70.8],[2017.46,64.7],[2017.62,58.6],[2017.79,56.4],[2017.95,56.4],[2018.12,57.1],[2018.28,60.9],[2018.45,61.7],[2018.67,60.9],[2018.84,58.6],[2018.94,52.6],[2019.08,46.5],[2019.16,92.0],[2019.27,126.1]];
const lo6 = [[2011.37,40.5],[2011.48,36.7],[2011.59,37.4],[2011.7,39.7],[2011.81,39.7],[2011.92,38.2],[2012.03,32.1],[2012.19,29.8],[2012.36,30.6],[2012.52,31.4],[2012.74,31.4],[2012.96,29.8],[2013.13,28.3],[2013.29,27.6],[2013.46,30.6],[2013.62,37.4],[2013.79,42.0],[2013.95,46.5],[2014.11,50.3],[2014.28,51.8],[2014.5,52.6],[2014.72,52.6],[2014.88,55.6],[2014.99,60.2],[2015.1,63.2],[2015.21,58.6],[2015.32,48.0],[2015.43,45.0],[2015.54,52.6],[2015.65,61.7],[2015.76,55.6],[2015.87,54.1],[2015.98,66.2],[2016.09,64.7],[2016.2,60.2],[2016.31,57.1],[2016.42,61.7],[2016.58,64.7],[2016.75,65.5],[2016.91,64.7],[2017.08,61.7],[2017.24,57.1],[2017.4,52.6],[2017.57,49.5],[2017.73,48.0],[2017.9,46.5],[2018.06,45.8],[2018.23,44.2],[2018.39,43.5],[2018.55,42.0],[2018.72,37.4],[2018.89,38.2],[2019.02,37.4],[2019.08,31.4],[2019.16,20.8]];

// ---- layout of the six panels ----
const panels = [
  { box: [85, 16, 56, 27], titleX: 151, base: 38, rule: [72, 577, 43], area: [85, 46, 569, 363],
    xr: [118.3, 546.7], yRef: [9, 352.3, 59, 61], yTop: 56, ticks: yTicks1,
    leg: { x0: 372, x1: 423, y: 75, dash: 91, tx: 428 } },
  { box: [610, 16, 55, 27], titleX: 675, base: 38, rule: [600, 1100, 43], area: [620, 45, 1109, 363],
    xr: [653.3, 1086], yRef: [0, 352.3, 90, 56.7], yTop: 54.3, ticks: yTicks2,
    leg: { x0: 918, x1: 969, y: 78, dash: null, tx: 975 } },
  { box: [85, 365, 56, 24], titleX: 152, base: 384, rule: [72.7, 576.7, 389.3], area: [85, 391.7, 571.7, 731.7],
    xr: [118.3, 549], yRef: [0, 720, 60, 401.7], yTop: 401.7, ticks: yTicks3,
    leg: { x0: 385, x1: 436, y: 431.7, dash: 449.3, tx: 441.7 } },
  { box: [610, 365, 56, 24], titleX: 678, base: 384, rule: [598, 1078, 389.3], area: [602, 391.7, 1091, 731.7],
    xr: [642.7, 1068.3], yRef: [5, 720, 105, 416], yTop: 401.7, ticks: yTicks4,
    leg: { x0: 903, x1: 954, y: 416.7, dash: 434, tx: 960 } },
  { box: [85, 732, 56, 25], titleX: 152, base: 752, rule: [72.7, 585, 756.7], area: [85, 758.3, 570, 1098],
    xr: [123.3, 547.3], yRef: [10, 1090, 100, 771.7], yTop: 770, ticks: yTicks5, bottomRule: 1098.3,
    leg: { x0: 292, x1: 343, y: 780, dash: 797.7, tx: 348 } },
  { box: [617, 732, 56, 25], titleX: 683, base: 752, rule: [605, 1118, 756.7], area: [621.7, 759.3, 1108, 1098],
    xr: [661.7, 1087.3], yRef: [20, 1088.3, 145, 813.3], yTop: 770, ticks: yTicks6, bottomRule: 1098.3,
    leg: { x0: 841, x1: 892, y: 780, dash: 797.7, tx: 897 } }
];
const series = [[pe1, up1, lo1], [pe2, up2, lo2], [pe3, up3, lo3], [pe4, up4, lo4], [pe5, up5, lo5], [pe6, up6, lo6]];

const BLUE = "#2f5c9f", NAVY = "#1b3b8b", GOLD = "#fbc52c", DASH = "#4a7dbb";

let svg = d3.select("svg");
svg.append("rect").attr("width", 1191).attr("height", 1140).attr("fill", "#000");

function drawPanel(p, i) {
  let [pe, up, lo] = series[i];
  let g = svg.append("g");

  // white plot area
  g.append("rect")
    .attr("x", p.area[0]).attr("y", p.area[1])
    .attr("width", p.area[2] - p.area[0]).attr("height", p.area[3] - p.area[1])
    .attr("fill", "#fff");

  // title bar
  g.append("rect").attr("x", p.box[0]).attr("y", p.box[1]).attr("width", p.box[2]).attr("height", p.box[3]).attr("fill", BLUE);
  g.append("text").attr("x", p.box[0] + 4).attr("y", p.base)
    .attr("fill", "#fff").style("font", "bold 18px 'Liberation Serif','Noto Sans CJK SC'")
    .text(figLabels[i]);
  g.append("text").attr("x", p.titleX).attr("y", p.base)
    .attr("fill", NAVY).attr("letter-spacing", 1)
    .style("font", "bold 19px 'Liberation Serif','Noto Sans CJK SC'")
    .text(titles[i]);
  g.append("rect").attr("x", p.rule[0]).attr("y", p.rule[2]).attr("width", p.rule[1] - p.rule[0]).attr("height", 2.5).attr("fill", BLUE);
  if (p.bottomRule) {
    g.append("rect").attr("x", p.rule[0]).attr("y", p.bottomRule).attr("width", p.rule[1] - p.rule[0]).attr("height", 2.5).attr("fill", BLUE);
  }

  // scales
  let x = d3.scaleLinear().domain([2006, 2020]).range(p.xr);
  let y = d3.scaleLinear().domain([p.yRef[0], p.yRef[2]]).range([p.yRef[1], p.yRef[3]]);
  y.domain([p.yRef[0], y.invert(p.yTop)]).range([p.yRef[1], p.yTop]);

  // y axis
  g.append("g").attr("class", "axis")
    .attr("transform", "translate(" + p.xr[0] + ",0)")
    .call(d3.axisLeft(y).tickValues(p.ticks).tickSize(4).tickSizeOuter(0).tickPadding(7));

  // x axis sits on the long-run mean
  let xa = g.append("g").attr("class", "axis")
    .attr("transform", "translate(0," + y(means[i]) + ")")
    .call(d3.axisBottom(x).tickValues(d3.range(2006, 2021)).tickSize(5).tickSizeOuter(0)
      .tickFormat(d => yearLabels[d - 2006] || ""));
  xa.selectAll("text")
    .attr("y", 0).attr("dy", 0)
    .attr("text-anchor", "end")
    .attr("transform", "translate(5,19) rotate(-45)");
  g.selectAll(".axis .domain").attr("stroke-width", 1.2);

  // lines
  let line = d3.line().x(d => x(d[0])).y(d => y(d[1]));
  let smooth = d3.line().curve(d3.curveMonotoneX).x(d => x(d[0])).y(d => y(d[1]));

  g.append("path").datum(pe).attr("d", line)
    .attr("fill", "none").attr("stroke", GOLD).attr("stroke-width", 2.3).attr("stroke-linejoin", "round");
  [up, lo].forEach(s => {
    g.append("path").datum(s).attr("d", smooth)
      .attr("fill", "none").attr("stroke", DASH).attr("stroke-width", 2.6)
      .attr("stroke-dasharray", "8,4.5");
  });

  // legend
  let L = p.leg;
  g.append("line").attr("x1", L.x0).attr("x2", L.x1).attr("y1", L.y).attr("y2", L.y)
    .attr("stroke", GOLD).attr("stroke-width", 2.6);
  legendLabels[i].forEach((t, k) => {
    g.append("text").attr("x", L.tx).attr("y", L.y + 5 + k * 20)
      .attr("fill", "#1a1a1a").attr("letter-spacing", 1)
      .style("font", "14px 'Liberation Serif','Noto Sans CJK SC'")
      .text(t);
  });
  if (L.dash) {
    g.append("line").attr("x1", L.x0).attr("x2", L.x1).attr("y1", L.dash).attr("y2", L.dash)
      .attr("stroke", DASH).attr("stroke-width", 2.6).attr("stroke-dasharray", "8,4.5");
  }
}

panels.forEach(drawPanel);

// overlay banner
svg.append("rect").attr("x", 0).attr("y", 539).attr("width", 1191).attr("height", 62)
  .attr("fill", "rgb(236,145,64)").attr("fill-opacity", 0.66);
svg.append("text").attr("x", 596).attr("y", 582)
  .attr("text-anchor", "middle").attr("fill", "#fff").attr("letter-spacing", 3)
  .style("font", "bold 31px 'Noto Sans CJK SC'")
  .text("电力板块的龙头股解释");
</script>
</body>
</html>
